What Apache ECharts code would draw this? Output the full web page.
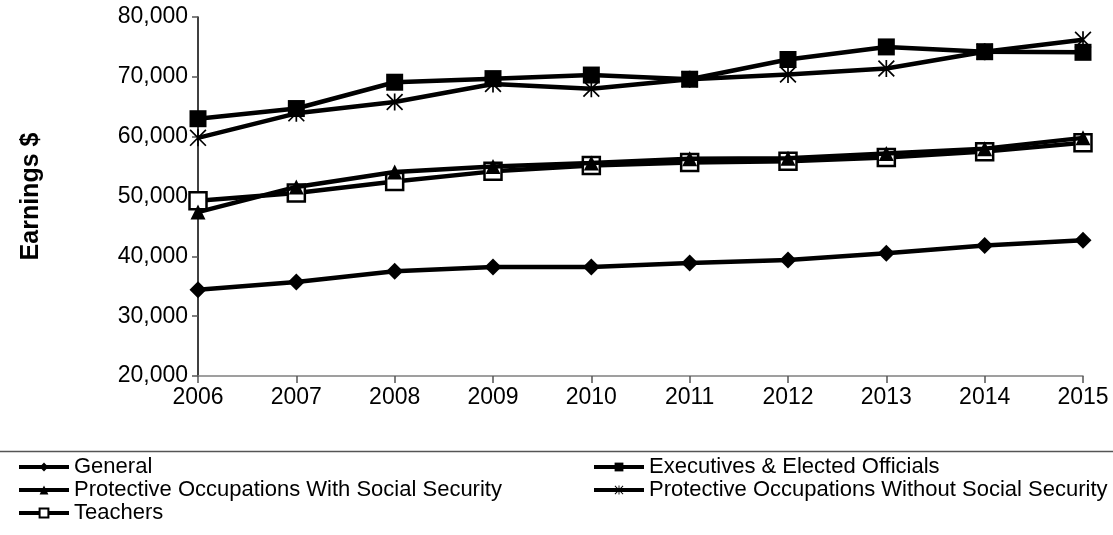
<!DOCTYPE html>
<html>
<head>
<meta charset="utf-8">
<script src="https://cdn.jsdelivr.net/npm/echarts@6/dist/echarts.min.js"></script>
<style>
  html, body { margin: 0; padding: 0; background: #fff; }
  #chart { width: 1113px; height: 535px; }
</style>
</head>
<body>
<div id="chart"></div>
<script>
// Average annual earnings by membership class, 2006-2015
const years = ['2006', '2007', '2008', '2009', '2010', '2011', '2012', '2013', '2014', '2015'];

const general        = [34400, 35700, 37500, 38200, 38200, 38900, 39400, 40500, 41800, 42700];
const executives     = [63000, 64700, 69100, 69700, 70300, 69600, 72900, 75000, 74200, 74100];
const protectiveSS   = [47400, 51600, 54100, 55000, 55600, 56300, 56400, 57200, 58000, 59800];
const protectiveNoSS = [59800, 63900, 65800, 68800, 68000, 69600, 70400, 71400, 74200, 76200];
const teachers       = [49300, 50600, 52500, 54200, 55200, 55700, 55900, 56500, 57500, 59000];

const yTicks = { min: 20000, max: 80000, interval: 10000 };

const legendLeft  = ['General', 'Protective Occupations With Social Security', 'Teachers'];
const legendRight = ['Executives & Elected Officials', 'Protective Occupations Without Social Security'];

// asterisk marker: vertical bar plus two diagonals
const asterisk = 'path://M45,0L55,0L55,100L45,100Z M0,7L7,0L100,93L93,100Z M93,0L100,7L7,100L0,93Z';

const FONT = '"Liberation Sans", Arial, sans-serif';

function lineSeries(name, data, symbol, size, fill, z) {
  return {
    name: name,
    type: 'line',
    data: data,
    z: z,
    symbol: symbol,
    symbolSize: size,
    showAllSymbol: true,
    lineStyle: { color: '#000', width: 4.5 },
    itemStyle: { color: fill, borderColor: '#000', borderWidth: fill === '#fff' ? 2.5 : 0 },
    emphasis: { disabled: true },
    animation: false
  };
}

const legendBase = {
  orient: 'vertical',
  top: 456,
  bottom: 0,
  padding: 0,
  itemWidth: 50,
  itemHeight: 11,
  itemGap: 1,
  lineStyle: { width: 4 },
  textStyle: { color: '#000', fontSize: 22, lineHeight: 22, fontFamily: FONT }
};

const chart = echarts.init(document.getElementById('chart'), null, { renderer: 'canvas' });

chart.setOption({
  backgroundColor: '#fff',
  animation: false,
  textStyle: { fontFamily: FONT },
  grid: { left: 198, right: 30, top: 17, bottom: 159, containLabel: false },
  xAxis: {
    type: 'category',
    data: years,
    boundaryGap: false,
    axisLine: { lineStyle: { color: '#808080', width: 1.5 } },
    axisTick: { alignWithLabel: true, length: 7, lineStyle: { color: '#555', width: 1.5 } },
    axisLabel: { color: '#000', fontSize: 23, fontFamily: FONT, margin: 10 },
    splitLine: { show: false }
  },
  yAxis: {
    type: 'value',
    min: yTicks.min,
    max: yTicks.max,
    interval: yTicks.interval,
    name: 'Earnings $',
    nameLocation: 'middle',
    nameGap: 154,
    nameRotate: 90,
    nameTextStyle: { color: '#000', fontSize: 25, fontWeight: 'bold', fontFamily: FONT },
    axisLine: { show: true, lineStyle: { color: '#000', width: 1.5 } },
    axisTick: { show: true, length: 6, lineStyle: { color: '#555', width: 1.5 } },
    axisLabel: {
      color: '#000', fontSize: 23, fontFamily: FONT, margin: 10,
      formatter: v => v.toLocaleString('en-US')
    },
    splitLine: { show: false }
  },
  legend: [
    Object.assign({}, legendBase, { left: 17, data: legendLeft }),
    Object.assign({}, legendBase, { left: 592, data: legendRight })
  ],
  graphic: [
    {
      type: 'line',
      shape: { x1: 0, y1: 451.5, x2: 1113, y2: 451.5 },
      style: { stroke: '#555', lineWidth: 1.5 },
      silent: true
    }
  ],
  series: [
    lineSeries('Teachers', teachers, 'rect', 17, '#fff', 2),
    lineSeries('Protective Occupations Without Social Security', protectiveNoSS, asterisk, 17, '#000', 3),
    lineSeries('Executives & Elected Officials', executives, 'rect', 17, '#000', 4),
    lineSeries('General', general, 'diamond', 17, '#000', 5),
    lineSeries('Protective Occupations With Social Security', protectiveSS, 'triangle', 15, '#000', 6)
  ]
});
</script>
</body>
</html>
